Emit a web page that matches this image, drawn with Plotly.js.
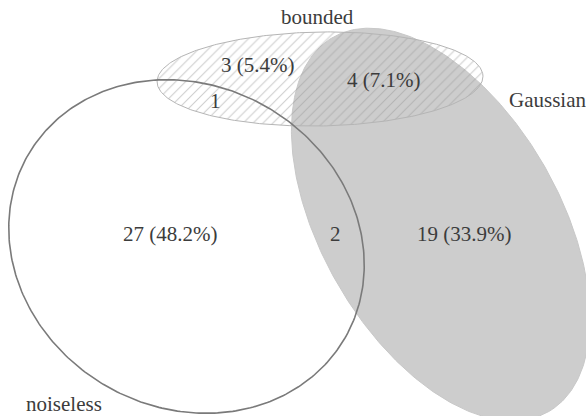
<!DOCTYPE html>
<html><head><meta charset="utf-8">
<script src="https://cdn.plot.ly/plotly-3.0.1.min.js"></script>
<style>html,body{margin:0;padding:0;background:#fff;}#chart{width:586px;height:416px;}</style>
</head><body><div id="chart"></div>
<script>
// ---- data ----
var setNames = ['noiseless', 'Gaussian', 'bounded'];
var regionNames = ['noiseless only', 'noiseless & Gaussian', 'Gaussian only', 'noiseless & bounded', 'bounded only', 'Gaussian & bounded'];
var regionCounts = [27, 2, 19, 1, 3, 4];

// ---- geometry (layout only) ----
var W = 586, H = 416;
var ellipses = {
  noiseless: {cx: 186.5, cy: 246.5, a: 183, b: 161, rot: 30},
  Gaussian:  {cx: 440.7, cy: 224.5, a: 216, b: 119, rot: 60},
  bounded:   {cx: 320, cy: 79, a: 163, b: 47, rot: -1}
};
var setLabelPos = {noiseless: [64, 404], Gaussian: [547, 100], bounded: [317, 17]};
var regionPos = [[170, 234], [335, 234], [464, 234], [215, 101], [257, 65], [383, 80]];

function ellipsePts(e) {
  var xs = [], ys = [], t = e.rot * Math.PI / 180;
  for (var i = 0; i <= 360; i++) {
    var u = i * Math.PI / 180;
    var px = e.a * Math.cos(u), py = e.b * Math.sin(u);
    xs.push(e.cx + px * Math.cos(t) - py * Math.sin(t));
    ys.push(e.cy + px * Math.sin(t) + py * Math.cos(t));
  }
  return {x: xs, y: ys};
}

var total = regionCounts.reduce(function (s, v) { return s + v; }, 0);
function regionText(c) {
  return c >= 3 ? c + ' (' + (100 * c / total).toFixed(1) + '%)' : String(c);
}

var g = ellipsePts(ellipses.Gaussian), b = ellipsePts(ellipses.bounded), n = ellipsePts(ellipses.noiseless);
var traces = [
  {x: g.x, y: g.y, mode: 'lines', fill: 'toself', fillcolor: '#cdcdcd',
   line: {color: '#c8c8c8', width: 1}, hoverinfo: 'skip', name: setNames[1]},
  {x: b.x, y: b.y, mode: 'lines', fill: 'toself', fillcolor: 'rgba(255,255,255,0)',
   fillpattern: {shape: '/', size: 7, solidity: 0.15, fgcolor: '#9a9a9a', bgcolor: 'rgba(255,255,255,0)', fillmode: 'overlay'},
   line: {color: '#b5b5b5', width: 1}, hoverinfo: 'skip', name: setNames[2]},
  {x: n.x, y: n.y, mode: 'lines', line: {color: '#7a7a7a', width: 1.6}, hoverinfo: 'skip', name: setNames[0]}
];

var font = {family: 'Liberation Serif, Times New Roman, serif', size: 21, color: '#3c3c3c'};
var annotations = [];
setNames.forEach(function (s) {
  annotations.push({x: setLabelPos[s][0], y: setLabelPos[s][1], text: s, showarrow: false,
    xanchor: 'center', yanchor: 'middle', font: font});
});
regionCounts.forEach(function (c, i) {
  annotations.push({x: regionPos[i][0], y: regionPos[i][1], text: regionText(c), showarrow: false,
    xanchor: 'center', yanchor: 'middle', font: font});
});

Plotly.newPlot('chart', traces, {
  width: W, height: H, margin: {l: 0, r: 0, t: 0, b: 0},
  paper_bgcolor: '#fff', plot_bgcolor: '#fff', showlegend: false,
  xaxis: {range: [0, W], visible: false, fixedrange: true},
  yaxis: {range: [H, 0], visible: false, fixedrange: true},
  annotations: annotations
}, {displayModeBar: false, staticPlot: true});
</script></body></html>
